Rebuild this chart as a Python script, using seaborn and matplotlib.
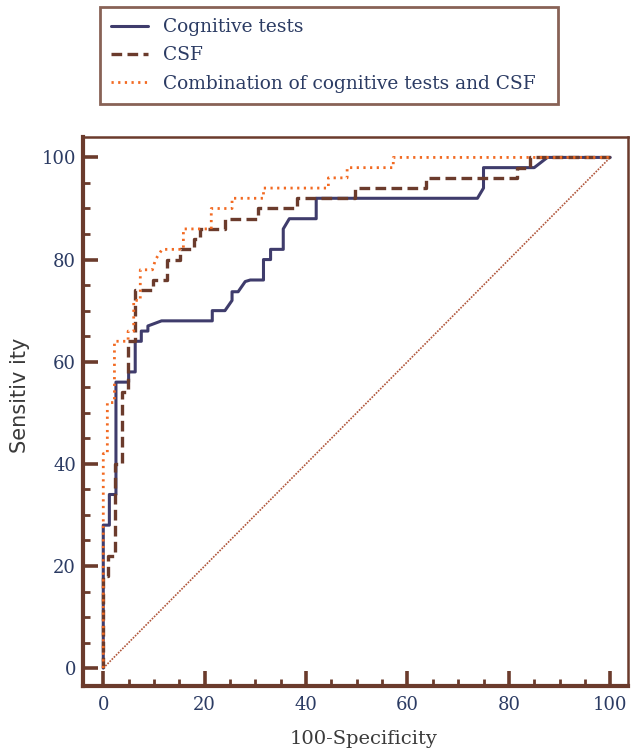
import matplotlib
matplotlib.use("Agg")
import matplotlib.pyplot as plt
import seaborn as sns
import numpy as np
from matplotlib.ticker import MultipleLocator

# ROC curve vertices (x = 100-Specificity, y = Sensitivity)
cog_x = [0, 0, 1.2, 1.2, 2.5, 2.5, 5, 5, 6.3, 6.3, 7.5, 7.5, 8.8, 8.8, 11.5, 21.5, 21.5,
         24, 25.4, 25.4, 26.6, 28, 29, 31.6, 31.6, 33, 33, 35.5, 35.5, 36.7, 42, 42,
         73.8, 75, 75, 85, 87.6, 100]
cog_y = [0, 28, 28, 34, 34, 56, 56, 58, 58, 64, 64, 66, 66, 67, 68, 68, 70,
         70, 72, 73.7, 73.7, 75.7, 76, 76, 80, 80, 82, 82, 86, 88, 88, 92,
         92, 94, 98, 98, 100, 100]

csf_x = [0, 0, 1.0, 1.0, 2.4, 2.4, 3.6, 3.6, 4.9, 4.9, 6.3, 6.3, 9.9, 9.9, 12.6, 12.6,
         15.2, 15.2, 17.8, 17.8, 19.1, 19.1, 24, 24, 30.5, 30.5, 38.2, 38.2, 49.7, 49.7,
         63.7, 63.7, 81.6, 81.6, 84.2, 84.2, 100]
csf_y = [0, 18, 18, 22, 22, 40, 40, 54, 54, 64, 64, 74, 74, 76, 76, 80,
         80, 82, 82, 84, 84, 86, 86, 88, 88, 90, 90, 92, 92, 94,
         94, 96, 96, 98, 98, 100, 100]

comb_x = [0, 0, 0.8, 0.8, 2.2, 2.2, 4.9, 4.9, 6.0, 6.0, 7.3, 7.3, 9.7, 10.3, 11.6, 15.8, 15.8,
          21.3, 21.3, 25.4, 25.4, 31.6, 31.6, 44.4, 44.4, 48.1, 48.1, 57.2, 57.2, 100]
comb_y = [0, 42, 42, 52, 52, 64, 64, 66, 66, 72, 72, 78, 78, 80, 82, 82, 86,
          86, 90, 90, 92, 92, 94, 94, 96, 96, 98, 98, 100, 100]

ref_x = [0, 100]
ref_y = [0, 100]

labels = ["Cognitive tests", "CSF", "Combination of cognitive tests and CSF"]

brown = "#6b3b2c"
text_col = "#2b3b63"

sns.set_theme(style="white")
plt.rcParams["font.family"] = ["DejaVu Serif"]
plt.rcParams["xtick.direction"] = "in"
plt.rcParams["ytick.direction"] = "in"

fig = plt.figure(figsize=(6.32, 7.55), dpi=100)
ax = fig.add_axes([83 / 632, 1 - 686 / 755, 545 / 632, 549 / 755])

sns.lineplot(x=ref_x, y=ref_y, ax=ax, color="#b0553a", linewidth=1.2,
             linestyle=(0, (1.0, 0.8)), estimator=None, sort=False)
sns.lineplot(x=cog_x, y=cog_y, ax=ax, color="#3f3c6c", linewidth=2.2,
             estimator=None, sort=False, label=labels[0])
sns.lineplot(x=csf_x, y=csf_y, ax=ax, color=brown, linewidth=2.4,
             linestyle=(0, (3.2, 1.6)), estimator=None, sort=False, label=labels[1])
sns.lineplot(x=comb_x, y=comb_y, ax=ax, color="#f26a22", linewidth=2.0,
             linestyle=(0, (0.8, 1.6)), estimator=None, sort=False, label=labels[2])

ax.set_xlim(-4, 103.5)
ax.set_ylim(-3.5, 104)
ax.xaxis.set_major_locator(MultipleLocator(20))
ax.xaxis.set_minor_locator(MultipleLocator(5))
ax.yaxis.set_major_locator(MultipleLocator(20))
ax.yaxis.set_minor_locator(MultipleLocator(5))
ax.tick_params(which="both", direction="in", color=brown, bottom=True, left=True,
               top=False, right=False)
ax.tick_params(which="major", direction="in", length=11, width=2.6, labelsize=13,
               labelcolor=text_col)
ax.tick_params(which="minor", direction="in", length=5, width=2.0)
ax.tick_params(axis="x", which="major", pad=7)
ax.tick_params(axis="y", which="major", pad=5)

for side in ["left", "bottom"]:
    ax.spines[side].set_color(brown)
    ax.spines[side].set_linewidth(3.0)
for side in ["top", "right"]:
    ax.spines[side].set_color(brown)
    ax.spines[side].set_linewidth(1.8)

ax.set_xlabel("100-Specificity", fontsize=14, color="#3a3a3a")
ax.xaxis.set_label_coords(0.514, -0.08)
ax.set_ylabel("Sensitiv ity", fontsize=15, color="#3a3a3a",
              family=["DejaVu Sans"])
ax.yaxis.set_label_coords(-0.098, 0.53)
ax.grid(False)

handles, labs = ax.get_legend_handles_labels()
ax.get_legend().remove()
leg = fig.legend(handles, labs, loc="upper left",
                 bbox_to_anchor=(100 / 632, 1 - 100 / 755, 458 / 632, 93 / 755),
                 mode="expand", fontsize=13.4, frameon=True, fancybox=False,
                 borderaxespad=0, borderpad=0.6, handlelength=2.0, handletextpad=0.8,
                 labelspacing=0.55, labelcolor=text_col)
leg.get_frame().set_edgecolor(brown)
leg.get_frame().set_linewidth(2.0)
leg.get_frame().set_facecolor("white")

fig.savefig("out.png", dpi=100, facecolor="white")
